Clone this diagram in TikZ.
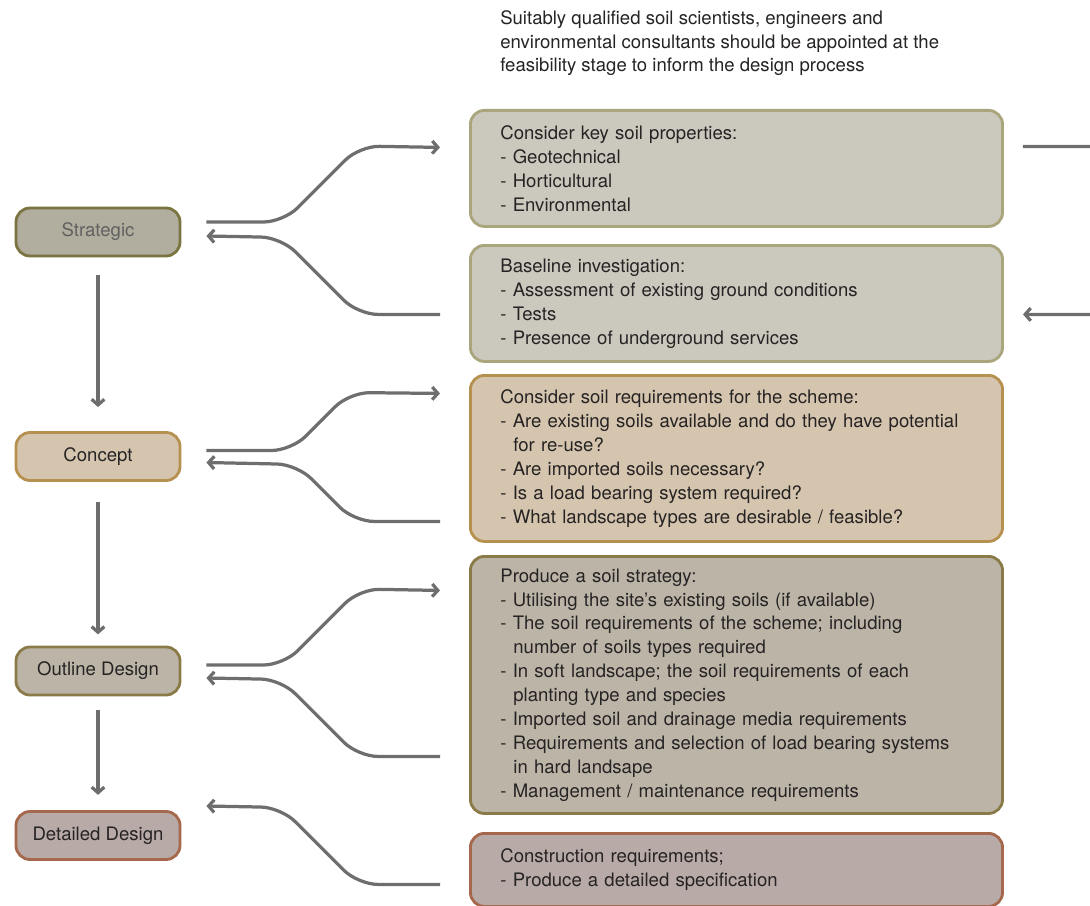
\documentclass[tikz,border=0pt]{standalone}
\usepackage{fontspec}
\setmainfont{TeX Gyre Heros}
\usepackage{xcolor}
\usetikzlibrary{arrows.meta,calc}

\definecolor{txtgray}{HTML}{262324}
\definecolor{linkgray}{HTML}{6E6E6E}
\definecolor{stratfill}{HTML}{B1AD9F}
\definecolor{stratdraw}{HTML}{7B7441}
\definecolor{basefill}{HTML}{CBC8BE}
\definecolor{basedraw}{HTML}{A9A57D}
\definecolor{conceptfill}{HTML}{D5C5AE}
\definecolor{conceptdraw}{HTML}{B5904F}
\definecolor{outlinefill}{HTML}{BCB5A7}
\definecolor{outlinedraw}{HTML}{8A7A48}
\definecolor{detailfill}{HTML}{B8AAA6}
\definecolor{detaildraw}{HTML}{A5684C}

\begin{document}
\begin{tikzpicture}[
    x=0.025cm, y=-0.025cm,
    font=\fontsize{13.2}{17}\selectfont,
    text=txtgray,
    stage/.style={
		rectangle,
		rounded corners=0.35cm,
		line width=2pt,
		minimum width=4.1cm,
		minimum height=1.2cm,
		inner sep=0pt,
		text centered
	},
    task/.style={
		rectangle,
		rounded corners=0.35cm,
		line width=2pt,
		anchor=north west,
		text width=11.8cm,
		align=left,
		inner xsep=0.75cm,
		inner ysep=0pt
	},
    link/.style={
		draw=linkgray,
		line width=2.3pt,
		rounded corners=0.5cm,
		-{Straight Barb[length=4pt,width=9pt]}
	}
  ]
  \useasboundingbox (0,0) rectangle (1090,906);

  % the stages on the left
  \node [stage, fill=stratfill, draw=stratdraw, text=black!62] (strategic) at (98,232) {Strategic};
  \node [stage, fill=conceptfill, draw=conceptdraw] (concept) at (98,456.5) {Concept};
  \node [stage, fill=outlinefill, draw=outlinedraw] (outline) at (98,671) {Outline Design};
  \node [stage, fill=detailfill, draw=detaildraw] (detailed) at (98,835.5) {Detailed Design};

  % the tasks on the right
  \node [anchor=north west, inner sep=0pt, align=left] (advice) at (500,10)
 {Suitably qualified soil scientists, engineers and\\
  environmental consultants should be appointed at the\\
  feasibility stage to inform the design process};

  \node [task, fill=basefill, draw=basedraw, minimum height=2.9cm] (props) at (469,109)
 {Consider key soil properties:\\
  - Geotechnical\\
  - Horticultural\\
  - Environmental};

  \node [task, fill=basefill, draw=basedraw, minimum height=2.9cm] (baseline) at (469,244)
 {Baseline investigation:\\
  - Assessment of existing ground conditions\\
  - Tests\\
  - Presence of underground services};

  \node [task, fill=conceptfill, draw=conceptdraw, minimum height=4.15cm] (needs) at (469,374)
 {Consider soil requirements for the scheme:\\
  - Are existing soils available and do they have potential\\
  \hspace*{0.7em}for re-use?\\
  - Are imported soils necessary?\\
  - Is a load bearing system required?\\
  - What landscape types are desirable / feasible?};

  \node [task, fill=outlinefill, draw=outlinedraw, minimum height=6.425cm] (strategy) at (469,555)
 {Produce a soil strategy:\\
  - Utilising the site’s existing soils (if available)\\
  - The soil requirements of the scheme; including\\
  \hspace*{0.7em}number of soils types required\\
  - In soft landscape; the soil requirements of each\\
  \hspace*{0.7em}planting type and species\\
  - Imported soil and drainage media requirements\\
  - Requirements and selection of load bearing systems\\
  \hspace*{0.7em}in hard landsape\\
  - Management / maintenance requirements};

  \node [task, fill=detailfill, draw=detaildraw, minimum height=1.825cm] (spec) at (469,832)
 {Construction requirements;\\
  - Produce a detailed specification};

  % down the stages
  \draw [link, shorten <=0.45cm, shorten >=0.6cm] (strategic) -- (concept);
  \draw [link, shorten <=0.5cm, shorten >=0.28cm] (concept) -- (outline);
  \draw [link, shorten <=0.35cm, shorten >=0.38cm] (outline) -- (detailed);

  % out to the tasks and back
  \draw [link] ($(strategic.east)+(25,-10)$) -- ++(77,0) -- ++(76,-76) -- ($(props.west)+(-29,-21)$);
  \draw [link] ($(baseline.west)+(-29,11)$) -- ++(-82,0) -- ++(-77,-77) -- ($(strategic.east)+(25,4)$);

  \draw [link] ($(concept.east)+(25,-6)$) -- ++(85,0) -- ++(58,-58) -- ($(needs.west)+(-29,-65)$);
  \draw [link] ($(needs.west)+(-29,63)$) -- ++(-86,0) -- ++(-57,-57) -- ($(concept.east)+(25,6)$);

  \draw [link] ($(outline.east)+(25,-6)$) -- ++(77,0) -- ++(76,-76) -- ($(strategy.west)+(-29,-94.5)$);
  \draw [link] ($(strategy.west)+(-29,71.5)$) -- ++(-82,0) -- ++(-77,-77) -- ($(outline.east)+(25,7)$);

  \draw [link] ($(spec.west)+(-29,14.5)$) -- ++(-82,0) -- ++(-77,-77) -- ($(detailed.east)+(25,-29.5)$);

  % properties feed the baseline
  \draw [link, rounded corners=0.3cm] ($(props.east)+(19,-22)$) -- ++(80,0) |- ($(baseline.east)+(19,11)$);

\end{tikzpicture}
\end{document}
